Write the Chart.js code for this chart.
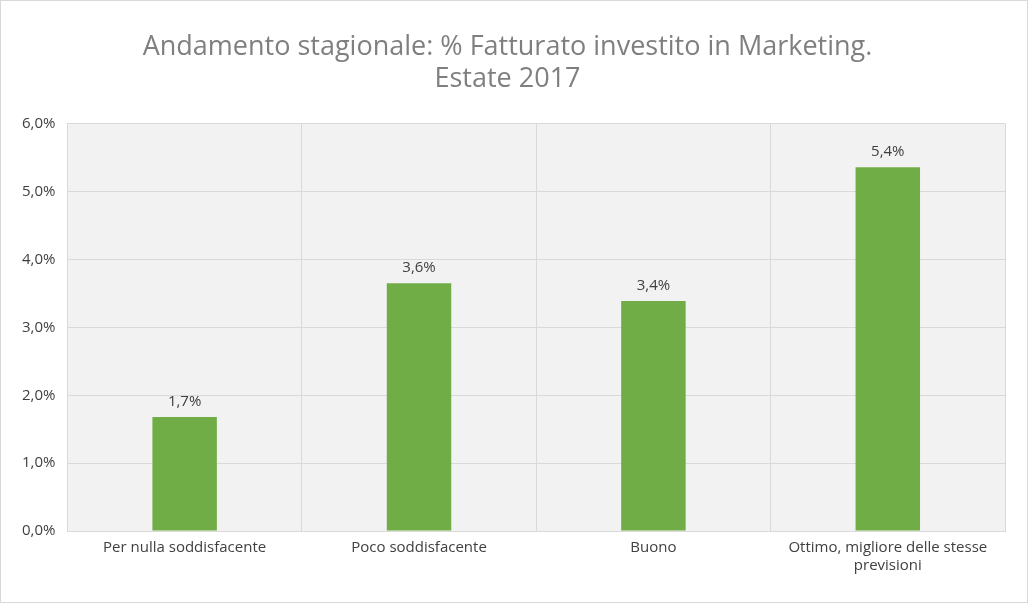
<!DOCTYPE html>
<html><head><meta charset="utf-8">
<script src="https://cdn.jsdelivr.net/npm/chart.js@4/dist/chart.umd.min.js"></script>
<style>html,body{margin:0;background:#fff}#w{width:1026px;height:601px;border:1px solid #d9d9d9}</style>
</head><body><div id="w"><canvas id="c"></canvas></div>
<script>
const categories = ["Per nulla soddisfacente", "Poco soddisfacente", "Buono", ["Ottimo, migliore delle stesse", "previsioni"]];
const values = [1.68, 3.65, 3.39, 5.36];
const yTicks = [0, 1, 2, 3, 4, 5, 6];

const fmt = v => v.toFixed(1).replace(".", ",") + "%";

const plotBg = {
  id: "plotBg",
  beforeDraw(chart) {
    const a = chart.chartArea, ctx = chart.ctx;
    ctx.save(); ctx.fillStyle = "#f2f2f2";
    ctx.fillRect(a.left, a.top, a.right - a.left, a.bottom - a.top);
    ctx.restore();
  }
};
const labels = {
  id: "labels",
  afterDatasetsDraw(chart) {
    const ctx = chart.ctx;
    ctx.save(); ctx.font = "15px 'Open Sans', sans-serif"; ctx.fillStyle = "#404040";
    ctx.textAlign = "center"; ctx.textBaseline = "bottom";
    chart.getDatasetMeta(0).data.forEach((b, i) => ctx.fillText(fmt(values[i]), b.x, b.y - 8));
    ctx.restore();
  }
};

new Chart("c", {
  type: "bar",
  data: { labels: categories, datasets: [{ data: values, backgroundColor: "#70ad47", barPercentage: 0.55, categoryPercentage: 0.5 }] },
  plugins: [plotBg, labels],
  options: {
    responsive: true, maintainAspectRatio: false, animation: false,
    layout: { padding: { left: 9, right: 22, top: 20, bottom: 19 } },
    plugins: {
      legend: { display: false }, tooltip: { enabled: false },
      title: { display: true, text: ["Andamento stagionale: % Fatturato investito in Marketing.", "Estate 2017"],
        color: "#7f7f7f", font: { size: 27, family: "'Open Sans', sans-serif", weight: "normal" }, padding: { top: 10, bottom: 28 }, lineHeight: 1.3 }
    },
    scales: {
      x: { grid: { color: "#d9d9d9", offset: true, drawTicks: false }, border: { color: "#d9d9d9" },
        ticks: { padding: 8, color: "#404040", font: { size: 15, family: "'Open Sans', sans-serif" }, maxRotation: 0, autoSkip: false } },
      y: { min: 0, max: 6, afterBuildTicks: ax => { ax.ticks = yTicks.map(v => ({ value: v })); },
        grid: { color: "#d9d9d9", drawTicks: false }, border: { display: false },
        ticks: { padding: 12, color: "#404040", font: { size: 15, family: "'Open Sans', sans-serif" }, callback: v => fmt(v) } }
    }
  }
});
</script></body></html>
